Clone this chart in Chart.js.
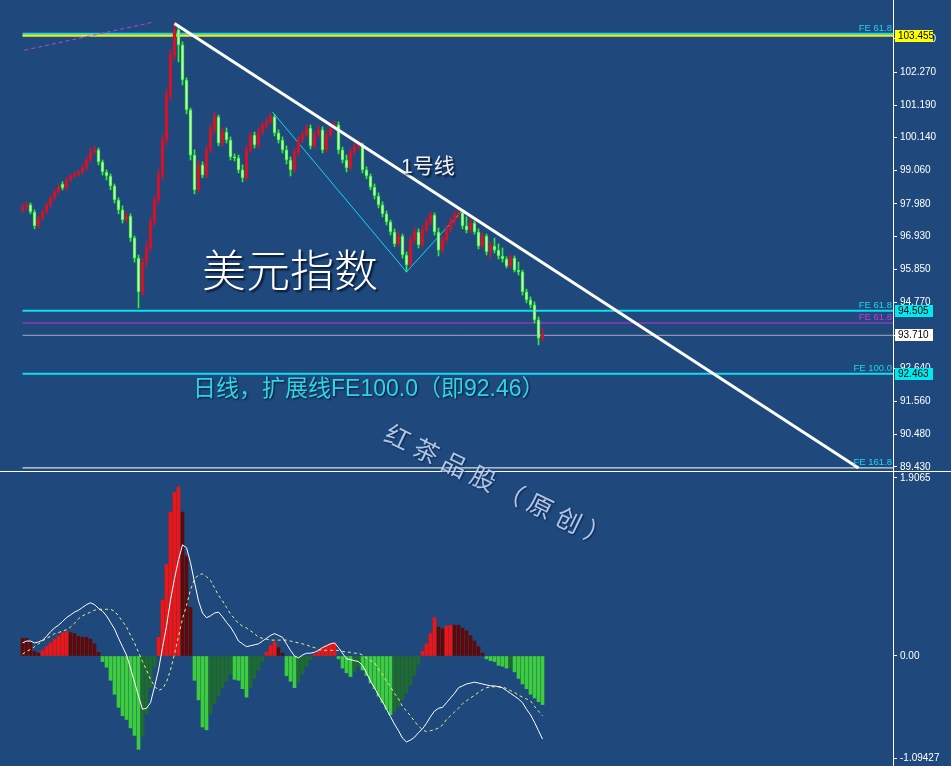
<!DOCTYPE html>
<html><head><meta charset="utf-8">
<script src="https://cdn.jsdelivr.net/npm/chart.js@4.4.1/dist/chart.umd.min.js"></script>
<style>
html,body{margin:0;padding:0;background:#1f497d;width:951px;height:766px;overflow:hidden}
canvas{position:absolute;left:0}
#c1{top:0}
#c2{top:471px}
</style></head><body>
<canvas id="c1" width="951" height="471"></canvas>
<canvas id="c2" width="951" height="295"></canvas>
<script>
// ---- data ----
const openP = [97.79,97.88,97.95,97.72,97.27,97.53,97.72,97.95,98.18,98.37,
 98.63,98.50,98.76,98.89,98.96,99.02,99.15,99.41,99.67,99.74,
 99.35,99.02,98.89,98.57,98.11,97.79,97.46,97.59,96.88,96.22,
 95.12,96.09,96.55,97.40,98.11,98.92,100.06,101.52,102.82,103.64,
 103.15,102.01,101.04,99.57,98.44,99.25,98.92,99.74,100.39,100.81,
 99.96,100.32,100.06,99.51,99.48,99.09,98.83,99.74,100.22,99.90,
 100.32,100.55,100.65,100.81,100.29,100.06,99.74,99.41,99.09,99.67,
 100.06,100.22,100.45,99.87,100.22,100.39,99.74,100.22,100.45,100.55,
 99.74,99.41,99.15,99.67,99.83,99.90,99.09,98.89,98.53,98.24,
 97.95,97.66,97.40,97.07,96.68,96.94,96.32,96.00,96.81,97.07,
 96.65,97.14,97.40,97.62,97.07,96.48,96.81,97.14,97.40,97.62,
 97.69,97.27,97.14,97.36,97.07,96.61,96.94,96.42,96.61,96.48,
 96.29,96.19,95.96,96.22,95.83,95.77,95.12,94.86,94.70,94.21,
 93.62];
const highP = [97.98,98.05,98.01,97.79,97.59,97.79,98.01,98.24,98.44,98.63,
 98.70,98.83,98.96,99.02,99.09,99.28,99.50,99.80,99.87,99.80,
 99.41,99.09,98.96,98.63,98.18,97.92,97.72,97.66,96.94,96.32,
 96.22,96.76,97.53,98.24,99.09,100.22,101.69,102.99,103.90,103.80,
 103.25,102.08,101.10,99.74,99.41,99.35,99.87,100.55,100.97,100.87,
 100.45,100.45,100.16,99.61,99.57,99.25,99.87,100.32,100.32,100.45,
 100.65,100.77,100.93,100.90,100.39,100.16,99.87,99.51,99.80,100.19,
 100.35,100.58,100.55,100.35,100.52,100.49,100.35,100.58,100.68,100.65,
 99.83,99.57,99.77,99.93,100.06,99.96,99.19,98.96,98.63,98.34,
 98.05,97.75,97.46,97.17,97.07,97.00,96.42,96.94,97.20,97.17,
 97.27,97.53,97.72,97.69,97.20,96.94,97.27,97.53,97.72,97.82,
 97.79,97.56,97.50,97.43,97.17,97.04,97.00,96.76,96.87,96.68,
 96.55,96.26,96.32,96.29,96.09,95.83,95.21,94.96,94.80,94.31,
 93.95];
const lowP = [97.69,97.79,97.66,97.17,97.20,97.46,97.66,97.88,98.11,98.31,
 98.44,98.44,98.70,98.83,98.89,98.96,99.09,99.35,99.61,99.25,
 98.92,98.76,98.44,98.01,97.66,97.36,97.40,96.76,96.09,94.60,
 94.99,95.96,96.42,97.27,97.98,98.76,99.90,101.36,102.66,102.60,
 101.85,100.91,99.41,98.31,98.37,98.83,98.83,99.64,100.29,99.87,
 99.87,99.96,99.41,99.38,98.99,98.70,98.76,99.67,99.80,99.80,
 100.22,100.45,100.58,100.19,99.96,99.64,99.28,98.89,99.02,99.57,
 100.00,100.16,99.77,99.80,100.16,99.64,99.67,100.16,100.39,99.61,
 99.31,99.02,99.09,99.57,99.77,98.99,98.80,98.44,98.14,97.85,
 97.56,97.30,96.97,96.59,96.61,96.22,95.77,95.94,96.71,96.55,
 96.59,97.04,97.30,96.97,96.29,96.39,96.71,97.04,97.30,97.53,
 97.17,97.04,97.04,97.00,96.52,96.55,96.32,96.22,96.39,96.19,
 96.09,95.90,95.90,95.77,95.67,95.02,94.76,94.60,94.11,93.40,
 93.52];
const closeP = [97.88,97.95,97.72,97.27,97.53,97.72,97.95,98.18,98.37,98.53,
 98.50,98.76,98.89,98.96,99.02,99.15,99.41,99.67,99.74,99.35,
 99.02,98.89,98.57,98.11,97.79,97.46,97.59,96.88,96.22,95.12,
 96.09,96.55,97.40,98.11,98.92,100.06,101.52,102.82,103.64,103.15,
 102.01,101.04,99.57,98.44,99.25,98.92,99.74,100.39,100.81,99.96,
 100.32,100.06,99.51,99.48,99.09,98.83,99.74,100.22,99.90,100.32,
 100.55,100.65,100.81,100.29,100.06,99.74,99.41,99.09,99.67,100.06,
 100.22,100.45,99.87,100.22,100.39,99.74,100.22,100.45,100.55,99.74,
 99.41,99.15,99.67,99.83,99.90,99.09,98.89,98.53,98.24,97.95,
 97.66,97.40,97.07,96.68,96.94,96.32,96.00,96.81,97.07,96.65,
 97.14,97.40,97.62,97.07,96.48,96.81,97.14,97.40,97.62,97.69,
 97.27,97.14,97.36,97.07,96.61,96.94,96.42,96.61,96.48,96.29,
 96.19,95.96,96.22,95.83,95.77,95.12,94.86,94.70,94.21,93.62,
 93.71];
const histV = [0.19,0.19,0.15,0.05,0.03,0.06,0.10,0.14,0.18,0.21,
 0.25,0.26,0.25,0.24,0.21,0.20,0.20,0.18,0.13,0.04,
 -0.06,-0.12,-0.26,-0.41,-0.55,-0.64,-0.68,-0.77,-0.85,-1.00,
 -0.86,-0.62,-0.34,-0.12,0.20,0.60,0.98,1.54,1.75,1.81,
 1.54,1.07,0.52,-0.26,-0.47,-0.76,-0.79,-0.62,-0.51,-0.43,
 -0.34,-0.27,-0.19,-0.25,-0.26,-0.35,-0.44,-0.34,-0.24,-0.15,
 -0.06,0.04,0.11,0.15,0.09,0.03,-0.21,-0.27,-0.34,-0.27,
 -0.19,-0.11,-0.04,0.02,0.05,0.09,0.11,0.13,0.14,-0.03,
 -0.13,-0.18,-0.22,-0.17,-0.11,-0.15,-0.21,-0.29,-0.35,-0.43,
 -0.50,-0.57,-0.63,-0.59,-0.54,-0.47,-0.40,-0.31,-0.21,-0.09,
 0.05,0.13,0.24,0.41,0.31,0.29,0.32,0.33,0.33,0.33,
 0.30,0.27,0.22,0.16,0.10,0.03,-0.03,-0.05,-0.06,-0.10,
 -0.11,-0.13,-0.13,-0.17,-0.24,-0.30,-0.35,-0.41,-0.45,-0.49,
 -0.52];
const macdV = [0.14,0.16,0.16,0.14,0.15,0.17,0.21,0.26,0.30,0.33,
 0.37,0.41,0.44,0.47,0.49,0.52,0.55,0.57,0.55,0.51,
 0.48,0.43,0.36,0.29,0.19,0.10,0.01,-0.13,-0.28,-0.43,
 -0.57,-0.56,-0.50,-0.33,-0.15,0.09,0.32,0.60,0.83,1.03,
 1.19,1.16,1.00,0.79,0.59,0.46,0.41,0.43,0.46,0.47,
 0.42,0.36,0.31,0.24,0.16,0.13,0.10,0.11,0.12,0.13,
 0.16,0.19,0.22,0.24,0.22,0.20,0.13,0.06,0.00,-0.02,
 0.01,0.03,0.03,0.04,0.06,0.09,0.11,0.13,0.14,0.09,
 0.03,-0.03,-0.04,-0.05,-0.06,-0.10,-0.18,-0.27,-0.34,-0.42,
 -0.49,-0.57,-0.65,-0.73,-0.80,-0.88,-0.92,-0.90,-0.87,-0.82,
 -0.78,-0.72,-0.65,-0.59,-0.56,-0.55,-0.50,-0.45,-0.40,-0.34,
 -0.32,-0.30,-0.29,-0.28,-0.29,-0.30,-0.31,-0.32,-0.32,-0.33,
 -0.34,-0.37,-0.40,-0.43,-0.46,-0.50,-0.57,-0.63,-0.71,-0.80,
 -0.89];
const signalV = [0.02,0.05,0.07,0.10,0.13,0.16,0.19,0.21,0.24,0.25,
 0.27,0.28,0.31,0.35,0.40,0.43,0.45,0.47,0.49,0.50,
 0.50,0.50,0.50,0.48,0.43,0.37,0.31,0.22,0.14,0.04,
 -0.06,-0.15,-0.25,-0.32,-0.37,-0.35,-0.28,-0.15,0.02,0.21,
 0.40,0.54,0.71,0.82,0.87,0.88,0.85,0.81,0.73,0.65,
 0.59,0.52,0.45,0.40,0.35,0.32,0.30,0.27,0.24,0.20,
 0.19,0.18,0.17,0.17,0.17,0.17,0.17,0.16,0.15,0.14,
 0.13,0.12,0.10,0.09,0.07,0.06,0.06,0.06,0.06,0.06,
 0.05,0.04,0.04,0.03,0.03,0.01,-0.02,-0.05,-0.07,-0.14,
 -0.20,-0.27,-0.33,-0.40,-0.46,-0.54,-0.59,-0.64,-0.70,-0.75,
 -0.79,-0.81,-0.80,-0.79,-0.77,-0.74,-0.68,-0.64,-0.60,-0.56,
 -0.51,-0.48,-0.45,-0.42,-0.39,-0.36,-0.34,-0.33,-0.33,-0.33,
 -0.33,-0.35,-0.37,-0.39,-0.42,-0.44,-0.46,-0.48,-0.54,-0.59,
 -0.64];
const priceTicks = [103.350,102.270,101.190,100.140,99.060,97.980,96.930,95.850,94.770,93.690,92.640,91.560,90.480,89.430];
const macdTicks = [1.9065, 0, -1.09427];
// horizontal levels and their labels
const levelValues = [103.52, 103.455, 94.505, 94.11, 93.71, 92.463, 89.40];
const feLabelValues = [103.52, 94.505, 94.11, 92.463, 89.40];
const feLabelTexts = ['FE 61.8', 'FE 61.8', 'FE 61.8', 'FE 100.0', 'FE 161.8'];
const priceBoxValues = [103.455, 94.505, 93.71, 92.463];
const priceBoxTexts = ['103.455', '94.505', '93.710', '92.463'];
// trend lines: [index, price]
const trendMain = [[38, 103.85], [209, 89.40]];
const trendDash = [[0.5, 102.98], [33, 103.90]];
const zigzag = [[62.5, 100.97], [96, 95.77], [110, 97.78]];

// ---- layout / style ----
const X_MIN = -5.625, X_MAX = 217.625;
const AXIS_W = 58;
const FONT = '"Liberation Sans", Arial, sans-serif';
const CJK = '"Noto Sans CJK SC", "Noto Sans", sans-serif';
const MIX = '"Liberation Sans", "Noto Sans CJK SC", sans-serif';
const RED = '#d0142c', GREEN_B = '#33ee33', GREEN_F = '#c4ffbc';
const idx = closeP.map((_, i) => i);
const isUp = i => closeP[i] >= openP[i];

const levelStyles = [
  {c:'#18d8f0', w:1.5}, {c:'#e4f020', w:2.5}, {c:'#10def0', w:2}, {c:'#c030d8', w:1},
  {c:'#a8aab8', w:1}, {c:'#10def0', w:2}, {c:'#ffffff', w:1}
];
const feLabelColors = ['#18d8f0','#18d8f0','#d030e0','#18d8f0','#18d8f0'];
const boxColors = ['#ffff00','#00e8f0','#ffffff','#00e8f0'];

const pts = arr => arr.map(p => ({x:p[0], y:p[1]}));

const datasets1 = [];
levelValues.forEach((v, k) => datasets1.push({
  type:'line', data:[{x:0,y:v},{x:X_MAX,y:v}], borderColor:levelStyles[k].c,
  borderWidth:levelStyles[k].w, pointRadius:0, order:6
}));
datasets1.push({type:'line', data:pts(trendDash), borderColor:'#c040e0', borderWidth:1, borderDash:[4,3], pointRadius:0, order:5});
datasets1.push({type:'line', data:pts(zigzag), borderColor:'#10d8f0', borderWidth:1, pointRadius:0, order:5});
datasets1.push({type:'bar', data:idx.map(i => ({x:i, y:[lowP[i], highP[i]]})), grouped:false,
  barThickness:1, backgroundColor: c => isUp(c.dataIndex) ? RED : GREEN_B, order:4});
datasets1.push({type:'bar', data:idx.map(i => ({x:i, y:[openP[i], closeP[i]]})), grouped:false,
  barThickness:3, minBarLength:1, borderSkipped:false, borderWidth:1,
  backgroundColor: c => isUp(c.dataIndex) ? RED : GREEN_F,
  borderColor: c => isUp(c.dataIndex) ? RED : GREEN_B, order:3});
datasets1.push({type:'line', data:pts(trendMain), borderColor:'#ffffff', borderWidth:3, pointRadius:0, order:1});

function yAxis(min, max, ticks, fmt) {
  return {
    type:'linear', position:'right', min, max,
    afterBuildTicks: s => { s.ticks = ticks.map(v => ({value:v})); },
    afterFit: s => { s.width = AXIS_W; s.paddingTop = 0; s.paddingBottom = 0; },
    border:{display:true, color:'#ffffff', width:1},
    grid:{drawOnChartArea:false, color:'#ffffff', tickLength:4, lineWidth:1},
    ticks:{color:'#ffffff', font:{family:FONT, size:10}, padding:3, autoSkip:false, callback: fmt}
  };
}
const xAxis = {type:'linear', min:X_MIN, max:X_MAX, display:false, offset:false, grid:{offset:false}};

const annotPlugin = {
  id:'annot',
  afterDraw(chart) {
    const {ctx, scales:{x, y}} = chart;
    ctx.save();
    // FE labels
    ctx.font = '9.5px ' + FONT; ctx.textAlign = 'right'; ctx.textBaseline = 'alphabetic';
    feLabelValues.forEach((v, k) => {
      ctx.fillStyle = feLabelColors[k];
      ctx.fillText(feLabelTexts[k], chart.chartArea.right - 1, y.getPixelForValue(v) - 3);
    });
    // price boxes on the axis
    ctx.font = '10px ' + FONT; ctx.textAlign = 'left'; ctx.textBaseline = 'middle';
    priceBoxValues.forEach((v, k) => {
      const py = Math.round(y.getPixelForValue(v));
      ctx.fillStyle = boxColors[k];
      ctx.fillRect(chart.chartArea.right + 2, py - 6, 38, 12);
      ctx.fillStyle = '#000000';
      ctx.fillText(priceBoxTexts[k], chart.chartArea.right + 5, py + 0.5);
    });
    // titles
    ctx.shadowColor = 'rgba(0,0,20,0.75)'; ctx.shadowOffsetX = 2; ctx.shadowOffsetY = 2; ctx.shadowBlur = 2;
    ctx.textBaseline = 'alphabetic'; ctx.textAlign = 'left';
    ctx.fillStyle = '#ffffff';
    ctx.font = '300 44px ' + CJK;
    ctx.fillText('美元指数', 202, 287);
    ctx.font = '21px ' + MIX;
    ctx.fillStyle = '#f2f2f2';
    ctx.fillText('1号线', 401, 173);
    ctx.font = '23px ' + MIX;
    ctx.fillStyle = '#2cd6e6';
    ctx.shadowOffsetX = 1; ctx.shadowOffsetY = 1;
    ctx.fillText('日线，扩展线FE100.0（即92.46）', 193, 396);
    ctx.restore();
  }
};

new Chart(document.getElementById('c1'), {
  type:'bar',
  data:{datasets:datasets1},
  options:{
    responsive:false, animation:false, devicePixelRatio:1, events:[],
    layout:{padding:0},
    plugins:{legend:{display:false}, tooltip:{enabled:false}},
    scales:{x:xAxis, y:yAxis(89.299, 104.611, priceTicks, v => v.toFixed(3))}
  },
  plugins:[annotPlugin]
});

const histColor = c => {
  const i = c.dataIndex, v = histV[i], p = i > 0 ? histV[i-1] : v;
  if (v >= 0) return v > p ? '#f01414' : '#5e0a0a';
  return v < p ? '#3ccc3c' : '#1f6a2e';
};

const macdPlugin = {
  id:'macdDeco',
  afterDraw(chart) {
    const {ctx} = chart;
    ctx.save();
    ctx.strokeStyle = '#ffffff'; ctx.lineWidth = 1;
    ctx.beginPath(); ctx.moveTo(0, 0.5); ctx.lineTo(951, 0.5); ctx.stroke();
    ctx.restore();
  }
};

new Chart(document.getElementById('c2'), {
  type:'bar',
  data:{datasets:[
    {type:'line', data:idx.map(i => ({x:i, y:macdV[i]})), borderColor:'#ffffff', borderWidth:1, pointRadius:0, order:1},
    {type:'line', data:idx.map(i => ({x:i, y:signalV[i]})), borderColor:'#eef088', borderWidth:1, borderDash:[3,3], pointRadius:0, order:2},
    {type:'bar', data:idx.map(i => ({x:i, y:histV[i]})), grouped:false, barThickness:3, backgroundColor:histColor, order:3}
  ]},
  options:{
    responsive:false, animation:false, devicePixelRatio:1, events:[],
    layout:{padding:0},
    plugins:{legend:{display:false}, tooltip:{enabled:false}},
    scales:{x:xAxis, y:yAxis(-1.178, 1.981, macdTicks, v => v === 0 ? '0.00' : String(v))}
  },
  plugins:[macdPlugin]
});

// watermark spanning both panels: overlay canvas
const wm = document.createElement('canvas');
wm.width = 951; wm.height = 766; wm.style.top = '0px'; wm.style.pointerEvents = 'none';
document.body.appendChild(wm);
(function(){
  const ctx = wm.getContext('2d');
  const chars = '红茶品股（原创）'.split('');
  const ang = Math.atan2(13.8, 28.5);
  ctx.font = '25px ' + CJK;
  ctx.textAlign = 'center'; ctx.textBaseline = 'middle';
  ctx.shadowColor = 'rgba(0,10,40,0.7)'; ctx.shadowOffsetX = 1; ctx.shadowOffsetY = 1; ctx.shadowBlur = 2;
  ctx.fillStyle = 'rgba(196,220,248,0.88)';
  chars.forEach((ch, k) => {
    ctx.save();
    ctx.translate(398 + k * 28.5, 437 + k * 13.8);
    ctx.rotate(ang);
    ctx.fillText(ch, 0, 0);
    ctx.restore();
  });
})();
</script>
</body></html>
